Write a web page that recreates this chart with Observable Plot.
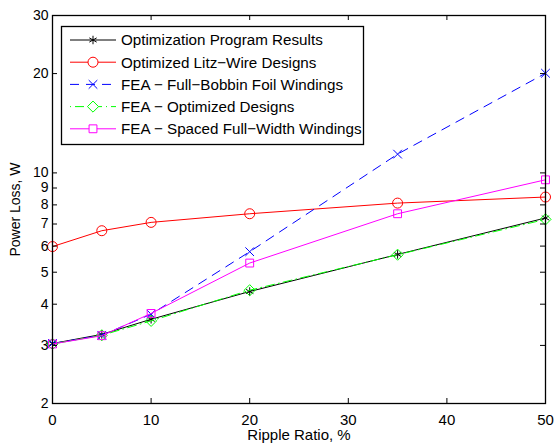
<!DOCTYPE html>
<html><head><meta charset="utf-8">
<script src="https://cdn.jsdelivr.net/npm/d3@7"></script>
<script src="https://cdn.jsdelivr.net/npm/@observablehq/plot@0.6"></script>
<style>
body{margin:0;background:#fff;font-family:"Liberation Sans",Arial,sans-serif;}
#wrap{position:relative;width:554px;height:443px;}
#legend{position:absolute;left:0;top:0;}
</style></head>
<body><div id="wrap"></div>
<script>
const ripple = [0, 5, 10, 20, 35, 50];
const optProgram = [3.04, 3.24, 3.6, 4.37, 5.66, 7.3];
const litzWire = [5.98, 6.68, 7.08, 7.52, 8.1, 8.45];
const fullBobbin = [3.04, 3.22, 3.73, 5.77, 11.4, 20.05];
const feaOptimized = [3.03, 3.22, 3.56, 4.41, 5.65, 7.23];
const spacedWidth = [3.03, 3.21, 3.75, 5.33, 7.52, 9.53];
const seriesNames = ["Optimization Program Results","Optimized Litz\u2212Wire Designs","FEA \u2212 Full\u2212Bobbin Foil Windings","FEA \u2212 Optimized Designs","FEA \u2212 Spaced Full\u2212Width Windings"];
const yTicks = [2,3,4,5,6,7,8,9,10,20,30];
const xTicks = [0,10,20,30,40,50];

const styles = [
  {color:"#000000", symbol:"asterisk", dash:null, r:4},
  {color:"#ff0000", symbol:"circle", dash:null, r:5},
  {color:"#0000ff", symbol:"times", dash:"9,7", r:4},
  {color:"#00ff00", symbol:"diamond2", dash:"1,4,9,4", r:5},
  {color:"#ff00ff", symbol:"square2", dash:null, r:5}
];
const allSeries = [optProgram, litzWire, fullBobbin, feaOptimized, spacedWidth];
const rows = [];
allSeries.forEach((vals, i) => vals.forEach((v, j) => rows.push({x: ripple[j], y: v, s: i})));

const W = 554, H = 443, mL = 52, mR = 9, mT = 15, mB = 40;
const iw = W - mL - mR, ih = H - mT - mB;
const FONT = '"Liberation Sans", Arial, sans-serif';

const marks = [];
styles.forEach((st, i) => {
  const d = rows.filter(r => r.s === i);
  marks.push(Plot.line(d, {x:"x", y:"y", stroke: st.color, strokeWidth: 1, strokeDasharray: st.dash || undefined}));
  marks.push(Plot.dot(d, {x:"x", y:"y", stroke: st.color, symbol: st.symbol, r: st.r, strokeWidth: 1, fill: "none"}));
});

const chart = Plot.plot({
  width: W, height: H,
  marginLeft: mL, marginRight: mR, marginTop: mT, marginBottom: mB,
  style: {fontFamily: FONT, fontSize: "15px", color: "#000", background: "#fff"},
  x: {domain: [0, 50]},
  y: {type: "log", domain: [2, 30]},
  marks: [
    ...marks,
    Plot.tickY(yTicks, {y: d => d, insetRight: iw - 5, stroke: "#000"}),
    Plot.tickY(yTicks, {y: d => d, insetLeft: iw - 5, stroke: "#000"}),
    Plot.tickX(xTicks, {x: d => d, insetTop: ih - 5, stroke: "#000"}),
    Plot.tickX(xTicks, {x: d => d, insetBottom: ih - 5, stroke: "#000"}),
    Plot.axisY(yTicks, {tickSize: 0, tickPadding: 4, tickFormat: d => String(d), label: "Power Loss, W", labelAnchor: "center", labelArrow: "none", labelOffset: 42, fontSize: 14}),
    Plot.axisX(xTicks, {tickSize: 0, tickPadding: 11, tickFormat: d => String(d), label: "Ripple Ratio, %", labelAnchor: "center", labelArrow: "none", labelOffset: 36, fontSize: 15}),
    Plot.frame({stroke: "#000", strokeWidth: 1.3})
  ]
});
document.getElementById("wrap").appendChild(chart);

// legend overlay
const lg = d3.select("#wrap").append("svg").attr("id","legend").attr("width", W).attr("height", H);
const bx = 61, by = 26, bw = 302, bh = 118;
lg.append("rect").attr("x", bx+0.5).attr("y", by+0.5).attr("width", bw).attr("height", bh)
  .attr("fill", "#fff").attr("stroke", "#000").attr("stroke-width", 1.3);
const symMap = {asterisk: d3.symbolAsterisk, circle: d3.symbolCircle, times: d3.symbolTimes, diamond2: d3.symbolDiamond2, square2: d3.symbolSquare2};
seriesNames.forEach((name, i) => {
  const st = styles[i];
  const yy = by + 14 + i * 22.2;
  lg.append("line").attr("x1", 70).attr("x2", 116).attr("y1", yy).attr("y2", yy)
    .attr("stroke", st.color).attr("stroke-width", 1).attr("stroke-dasharray", st.dash);
  lg.append("path").attr("transform", `translate(93,${yy})`)
    .attr("d", d3.symbol(symMap[st.symbol], Math.PI * st.r * st.r)())
    .attr("fill", "#fff").attr("stroke", st.color).attr("stroke-width", 1);
  lg.append("text").attr("x", 121).attr("y", yy).attr("dy", "0.35em")
    .attr("font-family", FONT).attr("font-size", 15.2).text(name);
});
</script></body></html>
